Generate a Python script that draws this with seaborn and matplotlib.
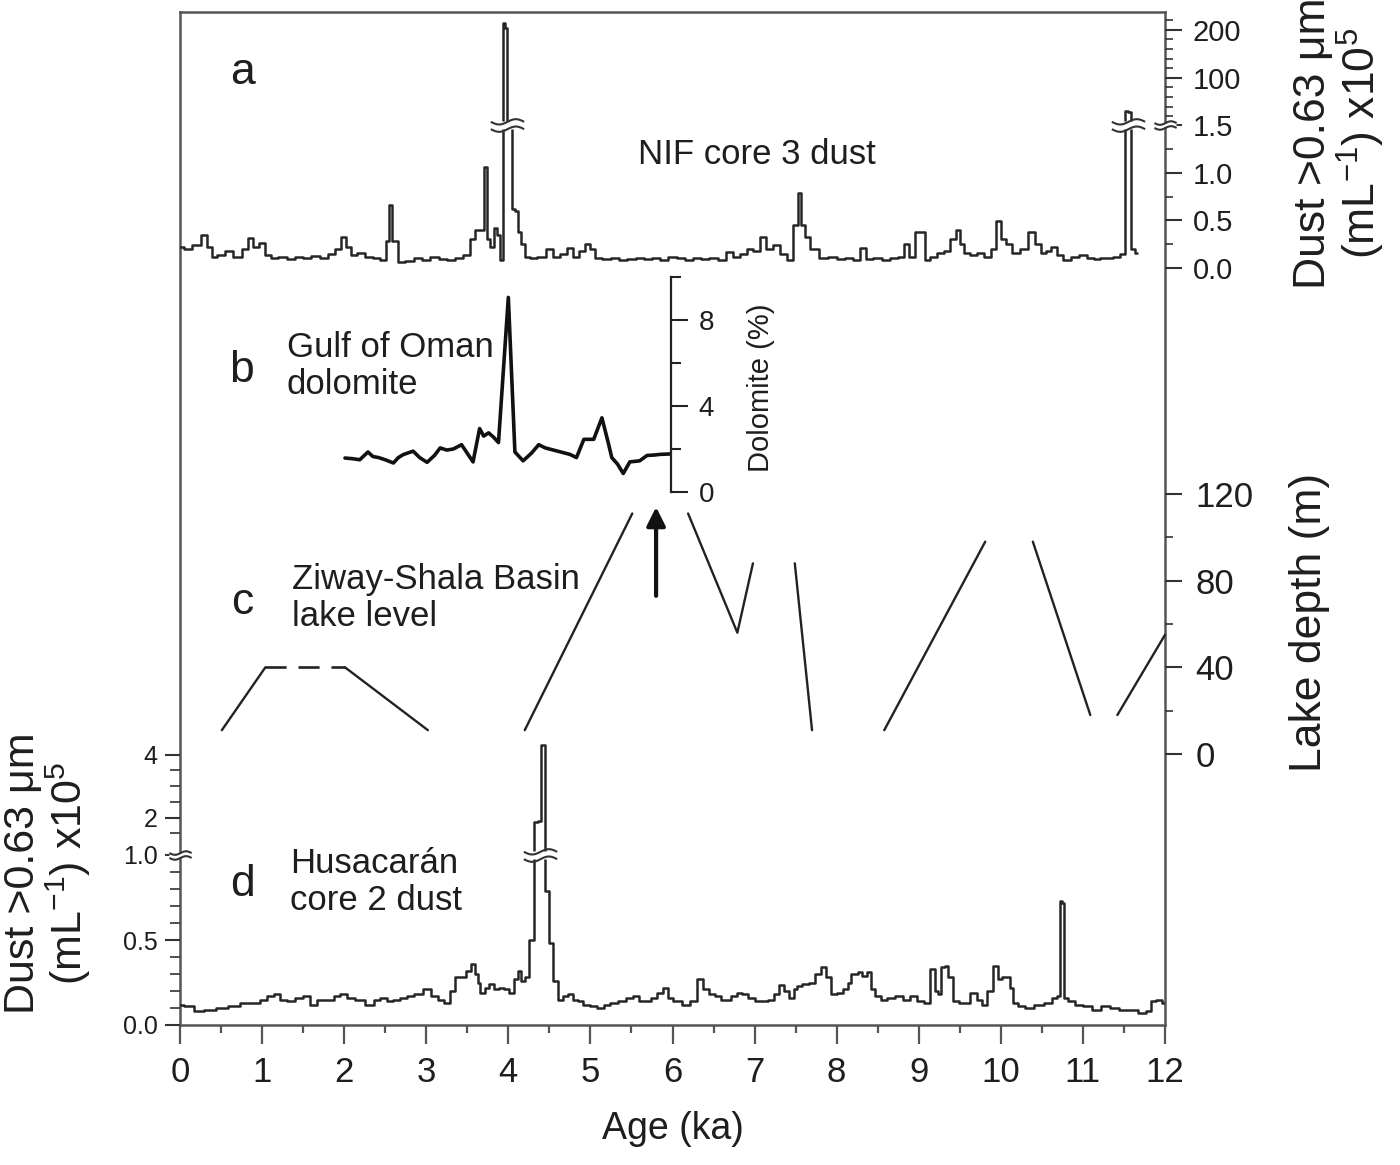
import numpy as np
import pandas as pd
import matplotlib
matplotlib.use("Agg")
import matplotlib.pyplot as plt
from matplotlib.path import Path
from matplotlib.ticker import FixedLocator, FixedFormatter, MultipleLocator
import seaborn as sns

# ---- data ----
# a: NIF core 3 dust (x10^5 per mL), values above 1.5 are on the compressed scale
nif_age = [0.00, 0.10, 0.20, 0.30, 0.36, 0.41, 0.50, 0.60, 0.70, 0.80, 0.85, 0.92, 1.00, 1.06,
           1.15, 1.25, 1.35, 1.45, 1.55, 1.65, 1.75, 1.85, 1.93, 1.99, 2.05, 2.11, 2.20, 2.30,
           2.40, 2.48, 2.53, 2.56, 2.60, 2.64, 2.68, 2.80, 2.90, 3.00, 3.10, 3.20, 3.30, 3.40,
           3.50, 3.57, 3.62, 3.68, 3.72, 3.76, 3.80, 3.84, 3.88, 3.92, 3.945, 3.965, 4.00, 4.03,
           4.06, 4.10, 4.14, 4.18, 4.22, 4.30, 4.40, 4.51, 4.58, 4.68, 4.75, 4.82, 4.90, 4.96,
           5.02, 5.08, 5.20, 5.30, 5.40, 5.50, 5.60, 5.70, 5.80, 5.90, 6.00, 6.10, 6.20, 6.30,
           6.40, 6.50, 6.60, 6.70, 6.78, 6.86, 6.95, 7.02, 7.11, 7.18, 7.27, 7.35, 7.43, 7.51,
           7.55, 7.59, 7.63, 7.72, 7.84, 7.95, 8.05, 8.15, 8.25, 8.33, 8.38, 8.50, 8.60, 8.70,
           8.80, 8.85, 8.92, 8.98, 9.06, 9.10, 9.18, 9.26, 9.35, 9.42, 9.48, 9.53, 9.58, 9.66,
           9.75, 9.85, 9.92, 9.97, 10.03, 10.09, 10.19, 10.28, 10.38, 10.45, 10.52, 10.58, 10.64,
           10.72, 10.80, 10.90, 11.01, 11.10, 11.17, 11.25, 11.33, 11.41, 11.49, 11.535, 11.56,
           11.61, 11.66]
nif_dust = [0.22, 0.20, 0.24, 0.35, 0.22, 0.12, 0.14, 0.18, 0.12, 0.20, 0.31, 0.22, 0.26, 0.14,
            0.10, 0.12, 0.09, 0.12, 0.10, 0.13, 0.10, 0.15, 0.20, 0.33, 0.22, 0.14, 0.16, 0.12,
            0.10, 0.08, 0.28, 0.66, 0.28, 0.28, 0.06, 0.07, 0.10, 0.08, 0.12, 0.09, 0.08, 0.10,
            0.14, 0.30, 0.40, 0.40, 1.06, 0.30, 0.22, 0.42, 0.35, 0.08, 214.0, 205.0, 3.0, 3.0,
            0.62, 0.60, 0.38, 0.25, 0.12, 0.10, 0.12, 0.20, 0.12, 0.15, 0.21, 0.12, 0.18, 0.25,
            0.20, 0.10, 0.09, 0.10, 0.08, 0.09, 0.10, 0.09, 0.10, 0.08, 0.12, 0.10, 0.08, 0.10,
            0.09, 0.11, 0.08, 0.17, 0.12, 0.15, 0.20, 0.18, 0.33, 0.20, 0.24, 0.15, 0.08, 0.45,
            0.79, 0.45, 0.33, 0.20, 0.10, 0.12, 0.09, 0.10, 0.08, 0.21, 0.09, 0.10, 0.08, 0.10,
            0.12, 0.25, 0.12, 0.38, 0.38, 0.08, 0.12, 0.16, 0.18, 0.30, 0.40, 0.25, 0.16, 0.14,
            0.16, 0.12, 0.20, 0.49, 0.30, 0.25, 0.16, 0.20, 0.38, 0.25, 0.16, 0.18, 0.22,
            0.14, 0.08, 0.12, 0.14, 0.10, 0.09, 0.11, 0.10, 0.12, 0.15, 30.0, 28.0,
            0.20, 0.16]

# b: Gulf of Oman dolomite (%)
dolo_age = [2.01, 2.10, 2.19, 2.29, 2.35, 2.42, 2.50, 2.60, 2.66, 2.72, 2.84, 2.92, 3.01, 3.10,
            3.17, 3.25, 3.33, 3.43, 3.50, 3.57, 3.65, 3.70, 3.76, 3.82, 3.88, 4.00, 4.08, 4.18,
            4.28, 4.37, 4.45, 4.55, 4.65, 4.75, 4.83, 4.92, 5.04, 5.14, 5.22, 5.26, 5.33, 5.40,
            5.48, 5.60, 5.69, 5.78, 5.85, 5.97]
dolo_pct = [1.58, 1.55, 1.50, 1.86, 1.65, 1.60, 1.50, 1.35, 1.60, 1.74, 1.90, 1.60, 1.38, 1.70,
            2.05, 1.95, 2.00, 2.20, 1.80, 1.40, 2.95, 2.60, 2.75, 2.55, 2.30, 9.05, 1.86, 1.45,
            1.80, 2.20, 2.05, 1.95, 1.85, 1.75, 1.60, 2.45, 2.45, 3.45, 2.25, 1.60, 1.30, 0.86,
            1.40, 1.45, 1.70, 1.72, 1.75, 1.77]

# c: Ziway-Shala lake level (m), separate reconstructed segments
lake_age = [[0.51, 1.04], [2.01, 3.02], [4.20, 5.51], [6.19, 6.79, 6.98], [7.49, 7.70],
            [8.58, 9.81], [10.39, 11.09], [11.42, 12.0]]
lake_depth = [[11, 40], [40, 11], [11, 111], [111, 56, 88], [88, 11],
              [11, 98], [98, 18], [18, 55]]
lake_dash_age = [1.04, 2.01]
lake_dash_depth = [40, 40]
arrow_age, arrow_from, arrow_to = 5.8, 73, 114

# d: Huascaran core 2 dust (x10^5 per mL), values above 1.0 on the compressed scale
hus_age = [0.00, 0.10, 0.24, 0.35, 0.53, 0.65, 0.81, 0.92, 1.02, 1.10, 1.18, 1.26, 1.34, 1.45,
           1.54, 1.62, 1.72, 1.83, 1.92, 1.99, 2.08, 2.19, 2.32, 2.40, 2.48, 2.56, 2.64, 2.72,
           2.80, 2.90, 3.01, 3.10, 3.18, 3.25, 3.33, 3.37, 3.45, 3.53, 3.57, 3.61, 3.64, 3.68,
           3.74, 3.80, 3.86, 3.92, 3.98, 4.04, 4.09, 4.14, 4.18, 4.22, 4.29, 4.34, 4.38, 4.42,
           4.47, 4.53, 4.57, 4.63, 4.70, 4.75, 4.82, 4.87, 4.95, 5.05, 5.12, 5.20, 5.28, 5.38,
           5.48, 5.56, 5.62, 5.69, 5.78, 5.85, 5.91, 5.97, 6.05, 6.17, 6.25, 6.34, 6.41, 6.48,
           6.55, 6.62, 6.67, 6.75, 6.82, 6.88, 6.95, 7.05, 7.13, 7.20, 7.27, 7.33, 7.39, 7.45,
           7.50, 7.54, 7.62, 7.70, 7.76, 7.85, 7.90, 7.97, 8.04, 8.11, 8.16, 8.19, 8.24, 8.28,
           8.34, 8.40, 8.44, 8.50, 8.57, 8.65, 8.77, 8.85, 8.94, 9.02, 9.10, 9.18, 9.22, 9.25,
           9.30, 9.33, 9.39, 9.45, 9.52, 9.58, 9.68, 9.74, 9.80, 9.87, 9.93, 9.99, 10.04, 10.09,
           10.13, 10.17, 10.25, 10.34, 10.46, 10.58, 10.67, 10.71, 10.74, 10.76, 10.78, 10.85,
           10.95, 11.05, 11.16, 11.28, 11.38, 11.49, 11.60, 11.73, 11.80, 11.86, 11.93, 12.00]
hus_dust = [0.12, 0.11, 0.08, 0.09, 0.10, 0.11, 0.13, 0.13, 0.15, 0.17, 0.18, 0.15, 0.14, 0.16,
            0.17, 0.12, 0.15, 0.15, 0.17, 0.18, 0.16, 0.15, 0.12, 0.15, 0.16, 0.14, 0.15, 0.16,
            0.17, 0.18, 0.21, 0.17, 0.15, 0.13, 0.20, 0.28, 0.28, 0.32, 0.36, 0.30, 0.25, 0.19,
            0.22, 0.24, 0.21, 0.22, 0.21, 0.19, 0.27, 0.32, 0.26, 0.28, 0.50, 1.85, 1.90, 4.30,
            0.79, 0.48, 0.26, 0.15, 0.17, 0.18, 0.15, 0.14, 0.12, 0.11, 0.10, 0.12, 0.13, 0.14,
            0.16, 0.17, 0.14, 0.14, 0.16, 0.19, 0.22, 0.16, 0.14, 0.12, 0.14, 0.27, 0.21, 0.18,
            0.17, 0.15, 0.15, 0.17, 0.19, 0.18, 0.16, 0.14, 0.14, 0.15, 0.18, 0.235, 0.20, 0.16,
            0.21, 0.23, 0.24, 0.245, 0.30, 0.34, 0.28, 0.18, 0.19, 0.21, 0.25, 0.30, 0.30, 0.31,
            0.29, 0.31, 0.21, 0.17, 0.15, 0.16, 0.17, 0.15, 0.17, 0.14, 0.13, 0.33, 0.20, 0.18,
            0.34, 0.35, 0.28, 0.14, 0.13, 0.13, 0.19, 0.15, 0.12, 0.20, 0.35, 0.27, 0.28, 0.28,
            0.22, 0.13, 0.11, 0.10, 0.12, 0.13, 0.16, 0.17, 0.73, 0.72, 0.16, 0.14,
            0.12, 0.11, 0.09, 0.11, 0.10, 0.09, 0.09, 0.07, 0.08, 0.14, 0.15, 0.13]

# axis breaks (value where the scale changes, slope of upper part, gap)
A_BRK, A_SLOPE, A_GAP = 1.5, 0.00503, 0.0
D_BRK, D_SLOPE, D_GAP = 1.0, 0.185, 0.035

a_major = [0, 0.5, 1.0, 1.5, 100, 200]
a_labels = ["0.0", "0.5", "1.0", "1.5", "100", "200"]
a_minor = [0.25, 0.75, 1.25, 20, 40, 60, 80, 120, 140, 160, 180, 220]
d_major = [0, 0.5, 1.0, 2, 4]
d_labels = ["0.0", "0.5", "1.0", "2", "4"]
d_minor = [0.1, 0.2, 0.3, 0.4, 0.6, 0.7, 0.8, 0.9, 1.5, 2.5, 3, 3.5]

# ---- style ----
sns.set_style("white")
plt.rcParams["font.family"] = ["Liberation Sans", "DejaVu Sans"]
plt.rcParams["mathtext.default"] = "regular"
INK = "#1e1e1e"
SPINE = "#555555"
TRACE = "#262626"

W, H = 1400, 1165
X0, X1 = 180, 1165
fig = plt.figure(figsize=(14, 11.65), dpi=100)


def rect(left, top, right, bottom):
    return [left / W, 1 - bottom / H, (right - left) / W, (bottom - top) / H]


def ftext(x, y, s, **kw):
    kw.setdefault("color", INK)
    fig.text(x / W, 1 - y / H, s, **kw)


def broken(brk, slope, gap):
    def fwd(y):
        y = np.asarray(y, dtype=float)
        return np.where(y <= brk, y, brk + gap + (y - brk) * slope)

    def inv(t):
        t = np.asarray(t, dtype=float)
        return np.where(t <= brk, t, np.where(t <= brk + gap, brk, brk + (t - brk - gap) / slope))
    return fwd, inv


def panel(top, bottom):
    ax = fig.add_axes(rect(X0, top, X1, bottom))
    ax.patch.set_visible(False)
    for s in ax.spines.values():
        s.set_visible(False)
    ax.tick_params(axis="x", which="both", bottom=False, top=False,
                   labelbottom=False, labeltop=False)
    return ax


# break symbol: two wavy strokes over a white gap
xw = np.linspace(-1, 1, 25)
wave_v = np.concatenate([np.c_[xw, 0.22 + 0.16 * np.sin(np.pi * xw)],
                         np.c_[xw, -0.22 + 0.16 * np.sin(np.pi * xw)]])
wave_c = ([Path.MOVETO] + [Path.LINETO] * 24) * 2
WAVE = Path(wave_v, wave_c)
GAP = Path([(-1, -0.22), (1, -0.22), (1, 0.22), (-1, 0.22), (-1, -0.22)],
           [Path.MOVETO, Path.LINETO, Path.LINETO, Path.LINETO, Path.CLOSEPOLY])


def break_mark(ax, x, y, size):
    ax.plot([x], [y], ls="none", marker=GAP, ms=size, mfc="white", mec="none",
            zorder=6, clip_on=False)
    ax.plot([x], [y], ls="none", marker=WAVE, ms=size, mfc="none", mec="#333333",
            mew=1.5, zorder=7, clip_on=False)


def spike_centres(age, val, brk):
    age = np.asarray(age)
    idx = np.where(np.asarray(val) > brk)[0]
    groups = np.split(idx, np.where(np.diff(idx) > 1)[0] + 1)
    return [age[g].mean() for g in groups if len(g)]


# ---- frame with the age axis ----
frame = fig.add_axes(rect(X0, 12, X1, 1025))
frame.set_xlim(0, 12)
frame.set_ylim(0, 1)
frame.set_yticks([])
frame.xaxis.set_major_locator(MultipleLocator(1))
frame.xaxis.set_minor_locator(MultipleLocator(0.5))
for s in frame.spines.values():
    s.set_color(SPINE)
    s.set_linewidth(1.8)
frame.tick_params(axis="x", which="both", bottom=True)
frame.tick_params(axis="x", which="major", direction="out", length=14, width=1.6,
                  color=SPINE, pad=8, labelsize=25, labelcolor=INK)
frame.tick_params(axis="x", which="minor", direction="out", length=6, width=1.6, color=SPINE)
frame.set_xlabel("Age (ka)", fontsize=27, color=INK, labelpad=16)

# ---- a: NIF core 3 dust ----
axa = panel(12, 290)
sns.lineplot(x=nif_age, y=nif_dust, ax=axa, color=TRACE, lw=1.8, drawstyle="steps-mid")
fa, ia = broken(A_BRK, A_SLOPE, A_GAP)
axa.set_yscale("function", functions=(fa, ia))
a_px0, a_pxu = 268, 95.3
axa.set_ylim(float(ia((a_px0 - 290) / a_pxu)), float(ia((a_px0 - 12) / a_pxu)))
axa.set_xlim(0, 12)
axa.yaxis.tick_right()
axa.yaxis.set_major_locator(FixedLocator(a_major))
axa.yaxis.set_major_formatter(FixedFormatter(a_labels))
axa.yaxis.set_minor_locator(FixedLocator(a_minor))
axa.tick_params(axis="y", which="both", right=True, left=False)
axa.tick_params(axis="y", which="major", direction="out", length=12, width=1.5,
                color="#333333", pad=8, labelsize=21, labelcolor=INK)
axa.tick_params(axis="y", which="minor", direction="out", length=6, width=1.2, color="#333333")
axa.set(xlabel="", ylabel="")
for xs in spike_centres(nif_age, nif_dust, A_BRK):
    break_mark(axa, xs, A_BRK, 24)
break_mark(axa, 12, A_BRK, 16)

# ---- b: Gulf of Oman dolomite ----
axb = panel(277, 492)
sns.lineplot(x=dolo_age, y=dolo_pct, ax=axb, color="#111111", lw=2.6)
axb.set_xlim(0, 12)
axb.set_ylim(0, 10)
axb.spines["right"].set_visible(True)
axb.spines["right"].set_position(("data", dolo_age[-1] + 0.01))
axb.spines["right"].set_color("#222222")
axb.spines["right"].set_linewidth(1.6)
axb.yaxis.tick_right()
axb.yaxis.set_major_locator(FixedLocator([0, 4, 8]))
axb.yaxis.set_minor_locator(FixedLocator([2, 6, 10]))
axb.tick_params(axis="y", which="both", right=True, left=False)
axb.tick_params(axis="y", which="major", direction="out", length=12, width=1.5,
                color="#222222", pad=8, labelsize=20, labelcolor=INK)
axb.tick_params(axis="y", which="minor", direction="out", length=7, width=1.5, color="#222222")
axb.set(xlabel="", ylabel="")

# ---- c: Ziway-Shala lake level ----
axc = panel(494, 754)
lake_df = pd.DataFrame({
    "age": [a for seg in lake_age for a in seg],
    "depth": [d for seg in lake_depth for d in seg],
    "seg": [i for i, seg in enumerate(lake_age) for _ in seg],
})
sns.lineplot(data=lake_df, x="age", y="depth", units="seg", estimator=None, sort=False,
             ax=axc, color="#222222", lw=1.7)
axc.plot(lake_dash_age, lake_dash_depth, color="#222222", lw=1.9, linestyle=(0, (8, 4.5)))
axc.annotate("", xy=(arrow_age, arrow_to), xytext=(arrow_age, arrow_from),
             arrowprops=dict(arrowstyle="-|>", lw=3, color="#111111", mutation_scale=28,
                             shrinkA=0, shrinkB=0))
axc.set_xlim(0, 12)
axc.set_ylim(0, 120)
axc.yaxis.tick_right()
axc.yaxis.set_major_locator(FixedLocator([0, 40, 80, 120]))
axc.yaxis.set_minor_locator(FixedLocator([20, 60, 100]))
axc.tick_params(axis="y", which="both", right=True, left=False)
axc.tick_params(axis="y", which="major", direction="out", length=12, width=1.5,
                color="#333333", pad=10, labelsize=25, labelcolor=INK)
axc.tick_params(axis="y", which="minor", direction="out", length=6, width=1.2, color="#333333")
axc.set(xlabel="", ylabel="")
for line in axc.lines:
    line.set_clip_on(False)

# ---- d: Huascaran core 2 dust ----
axd = panel(740, 1025)
sns.lineplot(x=hus_age, y=hus_dust, ax=axd, color=TRACE, lw=1.8, drawstyle="steps-mid")
fd, idd = broken(D_BRK, D_SLOPE, D_GAP)
axd.set_yscale("function", functions=(fd, idd))
axd.set_ylim(0, float(idd((1025 - 740) / 170.0)))
axd.set_xlim(0, 12)
axd.yaxis.tick_left()
axd.yaxis.set_major_locator(FixedLocator(d_major))
axd.yaxis.set_major_formatter(FixedFormatter(d_labels))
axd.yaxis.set_minor_locator(FixedLocator(d_minor))
axd.tick_params(axis="y", which="both", left=True, right=False)
axd.tick_params(axis="y", which="major", direction="out", length=11, width=1.5,
                color="#333333", pad=5, labelsize=18, labelcolor=INK)
axd.tick_params(axis="y", which="minor", direction="out", length=7, width=1.2, color="#333333")
axd.set(xlabel="", ylabel="")
for xs in spike_centres(hus_age, hus_dust, D_BRK):
    break_mark(axd, xs, D_BRK, 24)
break_mark(axd, 0, D_BRK, 16)

# ---- texts ----
for letter, y in zip("abcd", [72, 370, 603, 885]):
    ftext(242, y, letter, fontsize=32, ha="center", va="center")
ftext(757, 155, "NIF core 3 dust", fontsize=25, ha="center", va="center")
ftext(287, 366, "Gulf of Oman\ndolomite", fontsize=25, ha="left", va="center", linespacing=1.15)
ftext(292, 598, "Ziway-Shala Basin\nlake level", fontsize=25, ha="left", va="center",
      linespacing=1.15)
ftext(290, 882, "Husacarán\ncore 2 dust", fontsize=25, ha="left", va="center", linespacing=1.15)
ftext(761, 388, "Dolomite (%)", fontsize=21, rotation=90, ha="center", va="center")
ftext(1310, 622, "Lake depth (m)", fontsize=32, rotation=90, ha="center", va="center")
dust_label = "Dust >0.63 μm\n(mL$^{-1}$) x10$^{5}$"
ftext(1340, 143, dust_label, fontsize=32, rotation=90, ha="center", va="center",
      linespacing=1.0)
ftext(48, 873, dust_label, fontsize=31, rotation=90, ha="center", va="center", linespacing=1.0)

fig.savefig("out.png", dpi=100)
